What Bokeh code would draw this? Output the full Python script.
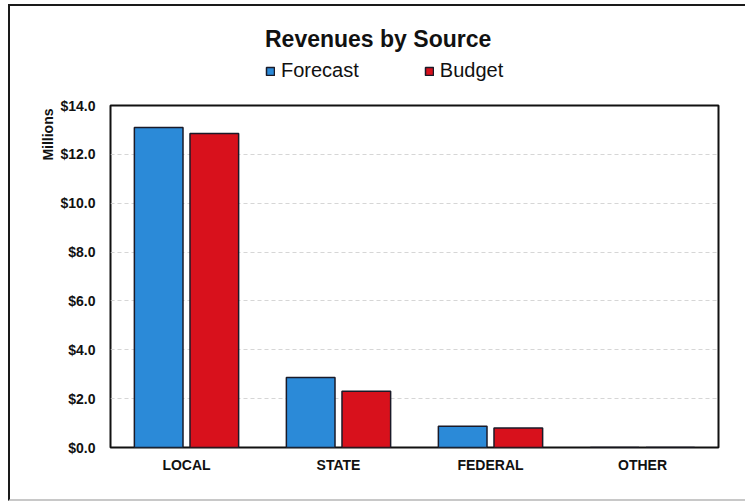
from bokeh.plotting import figure
from bokeh.layouts import column
from bokeh.models import (ColumnDataSource, Legend, LegendItem, Title,
                          FixedTicker, PrintfTickFormatter)
from bokeh.transform import dodge
from bokeh.embed import file_html
from bokeh.resources import INLINE

categories = ["LOCAL", "STATE", "FEDERAL", "OTHER"]
forecast = [13.1, 2.87, 0.87, 0.0]
budget = [12.85, 2.3, 0.8, 0.0]
y_ticks = [0, 2, 4, 6, 8, 10, 12, 14]
title_text = "Revenues by Source"
unit_text = "Millions"
series_names = ["Forecast", "Budget"]

BLUE = "#2b8ad8"
RED = "#d8111c"
EDGE = "#1a1a28"
FONT = "Liberation Sans"

# ---- header: title + legend -------------------------------------------
head = figure(width=735, height=80, x_range=(0, 1), y_range=(0, 1),
              output_backend="svg", toolbar_location=None, title_location=None,
              x_axis_type=None, y_axis_type=None, min_border=0)
head.grid.grid_line_color = None
head.outline_line_color = None
head.border_fill_color = "white"
# legend proxies (nothing visible is drawn: NaN geometry)
nan = float("nan")
h1 = head.vbar(x=[nan], top=[nan], width=1, fill_color=BLUE, line_color=EDGE, line_width=1.5)
h2 = head.vbar(x=[nan], top=[nan], width=1, fill_color=RED, line_color=EDGE, line_width=1.5)
legend = Legend(items=[LegendItem(label=series_names[0], renderers=[h1]),
                       LegendItem(label=series_names[1], renderers=[h2])],
                title=title_text, title_text_font=FONT,
                title_text_font_style="bold", title_text_font_size="23px",
                title_text_color="#111111", title_standoff=6,
                location=(155, 4), orientation="horizontal",
                glyph_width=10, glyph_height=10, label_standoff=6, spacing=65,
                padding=0, margin=0, border_line_color=None,
                background_fill_alpha=0, label_text_font=FONT,
                label_text_font_size="20px", label_text_color="#111111",
                label_height=20)
head.add_layout(legend, "center")

# ---- main chart ---------------------------------------------------------
src = ColumnDataSource(dict(cat=categories, forecast=forecast, budget=budget))

p = figure(x_range=categories, y_range=(0, 14), width=735, height=413,
           output_backend="svg", toolbar_location=None, title_location=None,
           min_border_left=100, min_border_right=27,
           min_border_top=19, min_border_bottom=52)
p.x_range.range_padding = 0
p.outline_line_color = "#111111"
p.outline_line_width = 2
p.background_fill_color = "white"
p.border_fill_color = "white"

r1 = p.vbar(x=dodge("cat", -0.183, range=p.x_range), top="forecast", width=0.32,
            source=src, fill_color=BLUE, line_color=EDGE, line_width=1.5)
r2 = p.vbar(x=dodge("cat", 0.183, range=p.x_range), top="budget", width=0.32,
            source=src, fill_color=RED, line_color=EDGE, line_width=1.5)

p.yaxis.ticker = FixedTicker(ticks=y_ticks)
p.yaxis.formatter = PrintfTickFormatter(format="$%.1f")
for ax in (p.xaxis, p.yaxis):
    ax.axis_line_color = None
    ax.major_tick_line_color = None
    ax.minor_tick_line_color = None
    ax.major_tick_in = 0
    ax.major_tick_out = 0
    ax.major_label_text_font = FONT
    ax.major_label_text_font_style = "bold"
    ax.major_label_text_color = "#111111"
p.yaxis.major_label_text_font_size = "14px"
p.yaxis.major_label_standoff = 15
p.xaxis.major_label_text_font_size = "14px"
p.xaxis.major_label_standoff = 9

p.xgrid.grid_line_color = None
p.ygrid.ticker = FixedTicker(ticks=y_ticks[1:-1])
p.ygrid.grid_line_color = "#cccccc"
p.ygrid.grid_line_dash = "4 3"
p.ygrid.grid_line_alpha = 0.8

p.add_layout(Title(text=unit_text, align="right", offset=3, standoff=4,
                   text_font=FONT, text_font_style="bold",
                   text_font_size="14px", text_color="#111111"), "left")

page = column(head, p, spacing=0, margin=(4, 0, 0, 8),
              styles={"border-left": "2px solid #1a1a1a",
                      "border-top": "2px solid #1a1a1a",
                      "border-bottom": "2px solid #c8c8c8",
                      "background": "white"})

open("out.html", "w").write(file_html(page, INLINE))
